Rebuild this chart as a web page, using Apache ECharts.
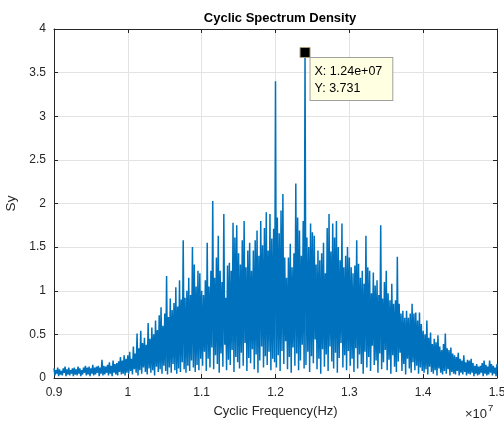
<!DOCTYPE html>
<html>
<head>
<meta charset="utf-8">
<script src="https://cdn.jsdelivr.net/npm/echarts@6/dist/echarts.min.js"></script>
<style>
  html, body { margin: 0; padding: 0; background: #fff; }
  #csd { width: 504px; height: 425px; }
</style>
</head>
<body>
<div id="csd"></div>
<script>
// frequency grid of the spectrum (Hz)
var freqStart = 9e6;
var freqStep = 25000;

// local maxima of Sy, one per grid step
var peaks = [
  0.11,0.09,0.12,0.10,0.08,0.11,0.13,0.10,0.12,0.09,
  0.11,0.12,0.10,0.13,0.11,0.09,0.12,0.14,0.12,0.13,
  0.11,0.15,0.12,0.13,0.14,0.12,0.21,0.14,0.13,0.15,
  0.18,0.14,0.20,0.16,0.17,0.19,0.24,0.20,0.26,0.22,
  0.26,0.30,0.22,0.36,0.28,0.51,0.34,0.54,0.40,0.46,
  0.38,0.63,0.45,0.58,0.50,0.66,0.55,0.72,0.81,0.60,
  0.74,1.17,0.70,0.91,0.78,0.86,1.04,0.82,1.12,0.90,
  1.58,0.92,1.00,1.15,0.95,1.50,1.30,1.05,1.23,1.20,
  1.00,0.95,1.12,1.55,1.05,1.23,2.03,1.15,1.38,1.63,
  1.23,1.10,1.88,0.92,1.29,1.32,1.23,1.78,1.61,1.75,
  1.43,1.30,1.58,1.80,1.27,1.46,1.55,1.23,1.46,1.58,
  1.69,1.40,1.80,1.52,1.72,1.90,1.46,1.88,1.60,1.71,
  3.40,
  1.84,1.66,1.92,2.11,1.38,1.15,1.38,1.54,1.27,1.43,
  2.23,1.84,1.69,1.40,1.80,3.731,1.61,1.50,1.77,1.67,
  1.63,1.30,1.46,1.35,1.43,1.55,1.20,1.72,1.88,1.45,
  1.77,1.61,1.80,1.50,1.35,1.77,1.27,1.40,1.50,
  1.38,1.27,1.20,1.29,1.58,1.31,1.15,1.23,1.08,1.63,
  1.27,1.23,0.97,1.21,1.06,1.12,0.95,1.75,0.91,1.10,
  1.23,0.97,0.89,1.08,0.85,0.89,1.39,0.85,0.74,0.77,
  0.69,0.77,0.69,0.74,0.85,0.74,0.75,0.66,0.75,0.62,
  0.54,0.50,0.66,0.46,0.52,0.39,0.45,0.41,0.49,0.36,
  0.32,0.39,0.51,0.34,0.32,0.35,0.28,0.26,0.24,0.29,
  0.22,0.20,0.26,0.18,0.21,0.20,0.22,0.17,0.14,0.16,
  0.13,0.14,0.17,0.20,0.15,0.13,0.20,0.16,0.14,0.12,
  0.16
];

// local minima between the peaks
var troughs = [
  0.03,0.05,0.02,0.04,0.03,0.06,0.02,0.04,0.03,0.05,
  0.02,0.04,0.03,0.05,0.02,0.04,0.06,0.03,0.04,0.02,
  0.05,0.03,0.04,0.06,0.02,0.05,0.03,0.04,0.06,0.03,
  0.05,0.02,0.06,0.04,0.03,0.07,0.04,0.05,0.03,0.06,
  0.05,0.08,0.04,0.10,0.06,0.03,0.09,0.05,0.12,0.07,
  0.04,0.11,0.06,0.09,0.03,0.13,0.07,0.10,0.05,0.14,
  0.08,0.04,0.12,0.06,0.16,0.09,0.05,0.11,0.07,0.18,
  0.10,0.06,0.14,0.08,0.20,0.12,0.07,0.15,0.09,0.22,
  0.14,0.30,0.08,0.22,0.12,0.35,0.10,0.26,0.16,0.06,
  0.28,0.13,0.38,0.09,0.21,0.15,0.32,0.07,0.24,0.18,
  0.11,0.29,0.14,0.40,0.08,0.23,0.17,0.33,0.10,0.27,
  0.06,0.20,0.36,0.12,0.25,0.15,0.30,0.09,0.22,0.18,
  0.12,0.26,0.08,0.31,0.16,0.42,0.10,0.24,0.06,0.35,
  0.14,0.28,0.09,0.20,0.38,0.11,0.15,0.30,0.07,0.25,
  0.17,0.44,0.10,0.22,0.05,0.33,0.13,0.27,0.08,0.36,
  0.19,0.11,0.29,0.06,0.23,0.40,0.12,0.26,0.09,0.31,
  0.14,0.22,0.07,0.34,0.11,0.27,0.16,0.05,0.30,0.12,
  0.24,0.08,0.37,0.15,0.20,0.06,0.28,0.10,0.18,0.32,
  0.09,0.21,0.05,0.26,0.13,0.07,0.19,0.29,0.08,0.16,
  0.04,0.22,0.11,0.06,0.18,0.09,0.14,0.05,0.12,0.08,
  0.06,0.10,0.04,0.13,0.07,0.05,0.09,0.03,0.11,0.06,
  0.04,0.08,0.05,0.10,0.03,0.07,0.05,0.04,0.08,0.03,
  0.06,0.04,0.07,0.03,0.05,0.04,0.06,0.02,0.05,0.03,
  0.04,0.06,0.02,0.05,0.03,0.04,0.06,0.03,0.05,0.02
];

// data tip
var tipX = 1.24e7;
var tipY = 3.731;

var xTicks = ['0.9', '1', '1.1', '1.2', '1.3', '1.4', '1.5'];

var font = 'Liberation Sans, Arial, Helvetica, sans-serif';
var ink = '#262626';

var spectrum = [];
for (var i = 0; i < peaks.length; i++) {
  spectrum.push([freqStart + i * freqStep, peaks[i]]);
  if (i < troughs.length && i < peaks.length - 1) {
    spectrum.push([freqStart + i * freqStep + freqStep / 2, troughs[i]]);
  }
}

var chartCsd = echarts.init(document.getElementById('csd'));
var optionCsd = {
  animation: false,
  backgroundColor: '#fff',
  textStyle: { fontFamily: font },
  title: {
    text: 'Cyclic Spectrum Density',
    left: 275,
    top: 7,
    textAlign: 'center',
    textStyle: { fontFamily: font, fontSize: 13, fontWeight: 'bold', color: '#000' }
  },
  grid: { left: 54, top: 29, right: 7, bottom: 47, outerBoundsMode: 'none', containLabel: false },
  xAxis: [{
    type: 'value',
    min: 9e6,
    max: 1.5e7,
    interval: 1e6,
    name: 'Cyclic Frequency(Hz)',
    nameLocation: 'middle',
    nameGap: 27,
    nameTextStyle: { fontFamily: font, fontSize: 13, color: ink },
    axisLine: { show: true, onZero: false, lineStyle: { color: ink, width: 1 } },
    axisTick: { show: true, inside: true, length: 4, lineStyle: { color: ink } },
    axisLabel: {
      margin: 9, fontFamily: font, fontSize: 12, color: ink,
      formatter: function (v) { return xTicks[Math.round((v - 9e6) / 1e6)]; }
    },
    splitLine: { show: true, lineStyle: { color: '#e3e3e3', width: 1 } }
  }, {
    type: 'value',
    position: 'top',
    min: 9e6,
    max: 1.5e7,
    interval: 1e6,
    axisLine: { show: true, onZero: false, lineStyle: { color: ink, width: 1 } },
    axisTick: { show: true, inside: true, length: 4, lineStyle: { color: ink } },
    axisLabel: { show: false },
    splitLine: { show: false }
  }],
  yAxis: [{
    type: 'value',
    min: 0,
    max: 4,
    interval: 0.5,
    name: 'Sy',
    nameLocation: 'middle',
    nameGap: 33,
    nameTextStyle: { fontFamily: font, fontSize: 13.5, color: ink },
    axisLine: { show: true, onZero: false, lineStyle: { color: ink, width: 1 } },
    axisTick: { show: true, inside: true, length: 4, lineStyle: { color: ink } },
    axisLabel: { margin: 8, fontFamily: font, fontSize: 12, color: ink },
    splitLine: { show: true, lineStyle: { color: '#e3e3e3', width: 1 } }
  }, {
    type: 'value',
    position: 'right',
    min: 0,
    max: 4,
    interval: 0.5,
    axisLine: { show: true, onZero: false, lineStyle: { color: ink, width: 1 } },
    axisTick: { show: true, inside: true, length: 4, lineStyle: { color: ink } },
    axisLabel: { show: false },
    splitLine: { show: false }
  }],
  graphic: [{
    type: 'text',
    left: 465,
    top: 403,
    style: {
      text: '{a|×10}{b|7}',
      rich: {
        a: { fontFamily: font, fontSize: 13, fill: ink, verticalAlign: 'bottom' },
        b: { fontFamily: font, fontSize: 9.5, fill: ink, verticalAlign: 'top', padding: [0, 0, 8, 1] }
      }
    }
  }],
  series: [{
    type: 'line',
    data: spectrum,
    showSymbol: false,
    silent: true,
    clip: true,
    lineStyle: { color: '#0072BD', width: 1.5 },
    markPoint: {
      symbol: 'rect',
      symbolSize: 10,
      silent: true,
      itemStyle: { color: '#000', borderColor: '#a89f7c', borderWidth: 1 },
      label: {
        show: true,
        position: [11, 11],
        formatter: 'X: ' + tipX.toExponential(2).replace('e+', 'e+0') + '\nY: ' + tipY,
        fontFamily: font,
        fontSize: 12.5,
        lineHeight: 17,
        color: '#000',
        align: 'left',
        verticalAlign: 'top',
        backgroundColor: '#ffffe1',
        borderColor: '#a0a0a0',
        borderWidth: 1,
        padding: [5, 10, 3, 4]
      },
      data: [{ coord: [tipX, tipY] }]
    }
  }]
};
chartCsd.setOption(optionCsd);
</script>
</body>
</html>
